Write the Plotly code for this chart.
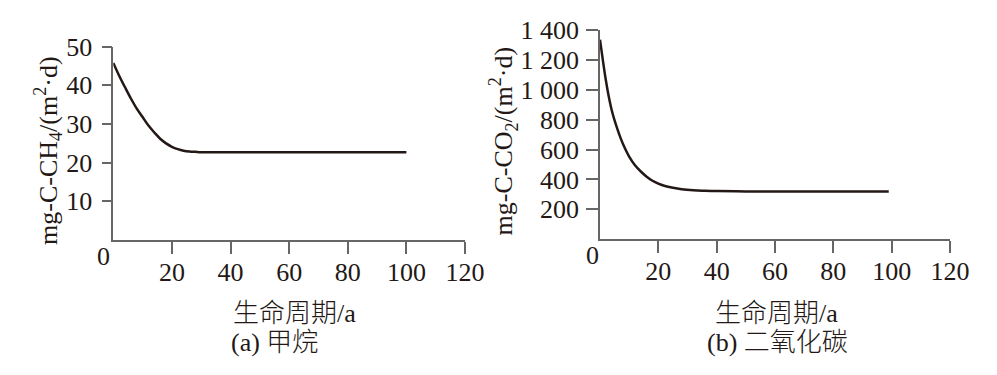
import plotly.graph_objects as go

# ---- data ----
ch4_years = [0, 2, 4, 6, 8, 10, 12, 14, 16, 18, 20, 22, 24, 26, 28, 30, 35, 40, 50, 60, 70, 80, 90, 100]
ch4_flux = [45.8, 42.5, 39.5, 36.6, 34.0, 31.8, 29.6, 27.8, 26.2, 25.0, 24.1, 23.5, 23.1, 22.9, 22.8,
            22.7, 22.7, 22.7, 22.7, 22.7, 22.7, 22.7, 22.7, 22.7]

co2_years = [0, 1, 2, 3, 4, 5, 6, 7, 8, 10, 12, 14, 16, 18, 20, 22, 25, 28, 32, 36, 40, 50, 60, 70, 80, 90, 99]
co2_flux = [1335, 1195, 1065, 955, 865, 795, 735, 680, 632, 553, 495, 453, 418, 391, 372, 358, 344, 334,
            327, 324, 322, 320, 320, 320, 320, 320, 320]

x_ticks = [20, 40, 60, 80, 100, 120]
ch4_ticks = [10, 20, 30, 40, 50]
co2_ticks = [200, 400, 600, 800, 1000, 1200, 1400]
co2_ticktext = ["200", "400", "600", "800", "1 000", "1 200", "1 400"]

x_title = "生命周期/a"
caption_a = "(a) 甲烷"
caption_b = "(b) 二氧化碳"
ylab_a = "mg-C-CH<sub>4</sub>/(m<sup>2</sup>·d)"
ylab_b = "mg-C-CO<sub>2</sub>/(m<sup>2</sup>·d)"

W, H = 997, 375
FONT = "Liberation Serif, Noto Sans CJK SC, serif"
AXC = "#666666"
LINEC = "#231815"
TXT = "#231815"
FS = 26

fig = go.Figure()
fig.add_trace(go.Scatter(x=ch4_years, y=ch4_flux, mode="lines", line=dict(color=LINEC, width=2.5, shape="spline"),
                         xaxis="x", yaxis="y", showlegend=False))
fig.add_trace(go.Scatter(x=co2_years, y=co2_flux, mode="lines", line=dict(color=LINEC, width=2.5, shape="spline"),
                         xaxis="x2", yaxis="y2", showlegend=False))

def px_x(p):
    return p / W

def px_y(p):
    return (H - p) / H

common_x = dict(range=[0, 120], tickvals=x_ticks, showgrid=False, zeroline=False, showline=True,
                linecolor=AXC, linewidth=1.5, ticks="outside", ticklen=12, tickwidth=1.5, tickcolor=AXC,
                tickfont=dict(family=FONT, size=FS, color=TXT), ticklabelstandoff=-4, fixedrange=True,
                automargin=False)
common_y = dict(showgrid=False, zeroline=False, showline=True, linecolor=AXC, linewidth=1.5,
                ticks="outside", tickwidth=1.5, tickcolor=AXC,
                tickfont=dict(family=FONT, size=FS, color=TXT), fixedrange=True, automargin=False)

fig.update_layout(
    template="none",
    width=W, height=H, margin=dict(l=0, r=0, t=0, b=0, pad=0, autoexpand=False), autosize=False,
    paper_bgcolor="white", plot_bgcolor="white",
    xaxis=dict(domain=[px_x(113.3), px_x(465)], anchor="y", **common_x),
    yaxis=dict(domain=[px_y(240), px_y(46.7)], anchor="x", range=[0, 50], tickvals=ch4_ticks,
               ticklen=10, ticklabelstandoff=4, **common_y),
    xaxis2=dict(domain=[px_x(600), px_x(950)], anchor="y2", **common_x),
    yaxis2=dict(domain=[px_y(239.2), px_y(30)], anchor="x2", range=[0, 1400], tickvals=co2_ticks,
                ticktext=co2_ticktext, ticklen=12, ticklabelstandoff=2, **common_y),
)

cjk_font = dict(family=FONT, size=FS, color=TXT, weight=300)
anns = []
# corner zeros
anns.append(dict(x=0, y=0, xref="x", yref="y", text="0", showarrow=False, xshift=-10, yshift=-16,
                 font=dict(family=FONT, size=FS, color=TXT)))
anns.append(dict(x=0, y=0, xref="x2", yref="y2", text="0", showarrow=False, xshift=-8, yshift=-16,
                 font=dict(family=FONT, size=FS, color=TXT)))
# x titles and captions
for cx in [294.5, 776]:
    anns.append(dict(x=px_x(cx), y=px_y(313), xref="paper", yref="paper", text=x_title, showarrow=False,
                     xanchor="center", yanchor="middle", font=cjk_font))
for cx, cap in [(274, caption_a), (777.5, caption_b)]:
    anns.append(dict(x=px_x(cx), y=px_y(342), xref="paper", yref="paper", text=cap, showarrow=False,
                     xanchor="center", yanchor="middle", font=cjk_font))
# y titles
anns.append(dict(x=px_x(48), y=px_y(151), xref="paper", yref="paper", text=ylab_a, showarrow=False,
                 textangle=-90, xanchor="center", yanchor="middle", font=dict(family=FONT, size=FS, color=TXT)))
anns.append(dict(x=px_x(503), y=px_y(141.5), xref="paper", yref="paper", text=ylab_b, showarrow=False,
                 textangle=-90, xanchor="center", yanchor="middle", font=dict(family=FONT, size=FS, color=TXT)))
fig.update_layout(annotations=anns)

post = ("document.body.style.margin='0';document.body.style.padding='0';"
        "document.documentElement.style.overflow='hidden';document.body.style.overflow='hidden';")
fig.write_html("out.html", config={"responsive": False, "displayModeBar": False}, post_script=post)
